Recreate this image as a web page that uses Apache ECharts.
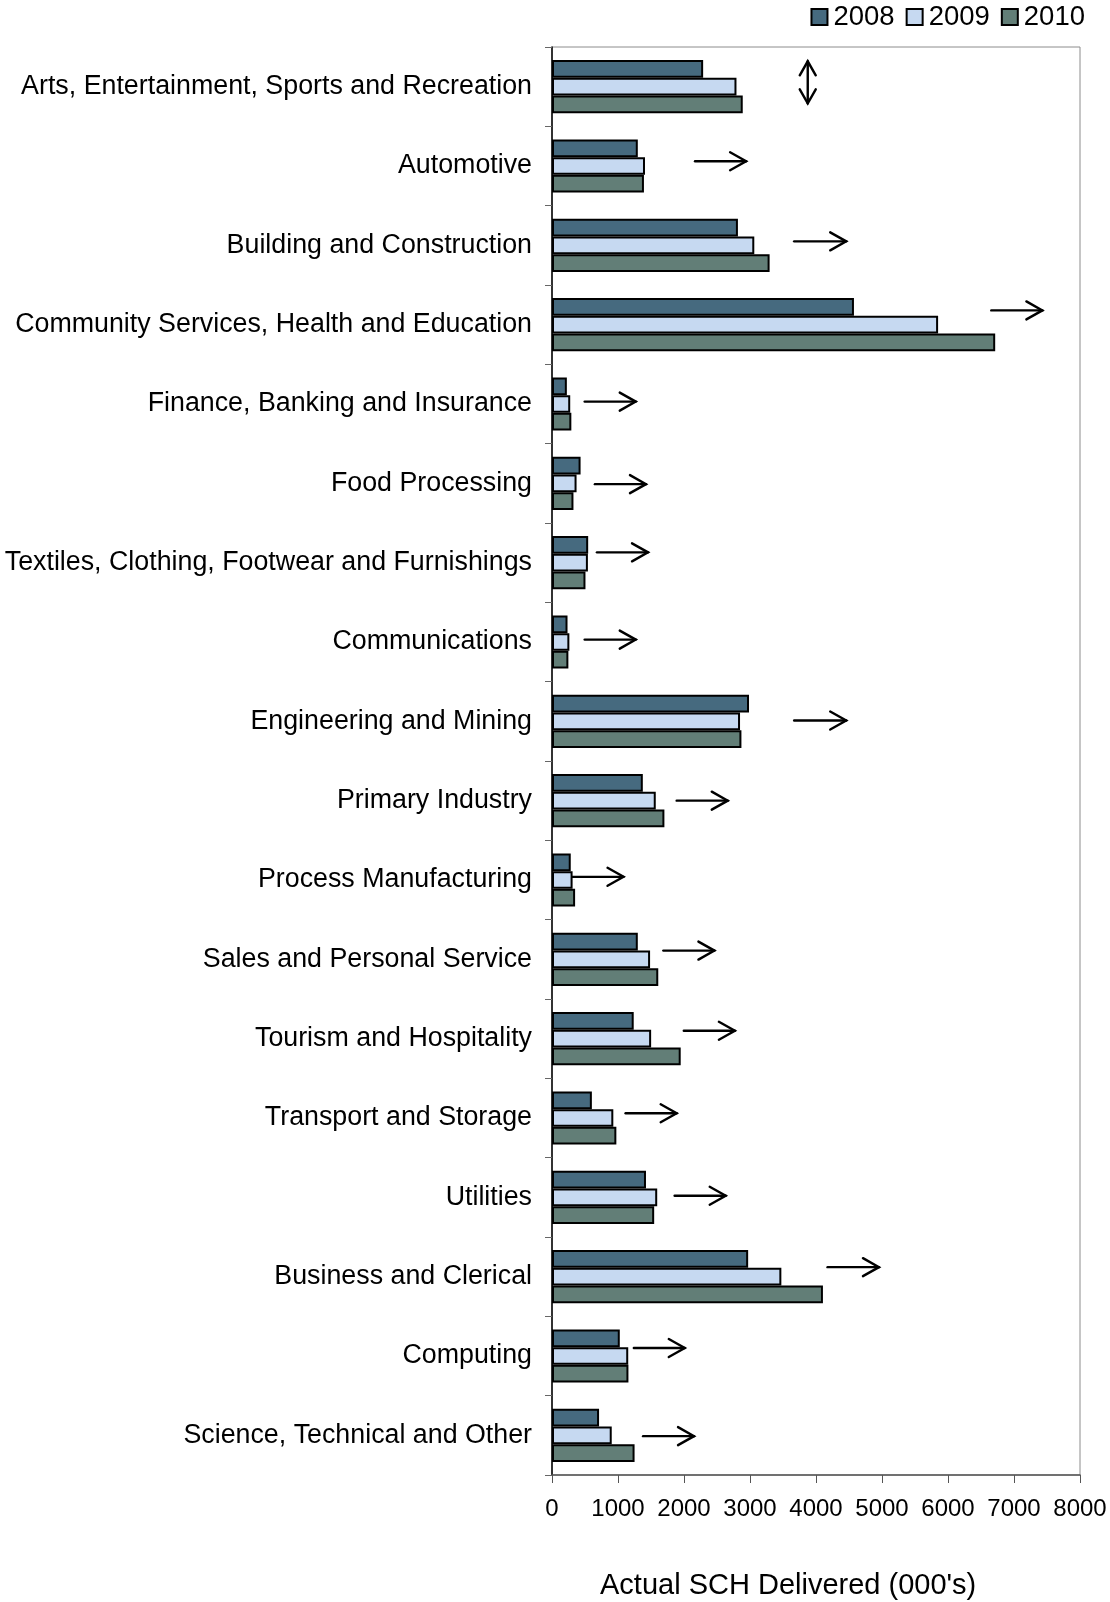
<!DOCTYPE html>
<html>
<head>
<meta charset="utf-8">
<title>Actual SCH Delivered by Industry, 2008–2010</title>
<script src="https://cdn.jsdelivr.net/npm/echarts@6/dist/echarts.min.js"></script>
<style>
  html, body { margin: 0; padding: 0; background: #ffffff; }
  #chart { width: 1110px; height: 1602px; }
</style>
</head>
<body>
<div id="chart"></div>
<script>
// Industry groups, top to bottom
const industries = [
  'Arts, Entertainment, Sports and Recreation',
  'Automotive',
  'Building and Construction',
  'Community Services, Health and Education',
  'Finance, Banking and Insurance',
  'Food Processing',
  'Textiles, Clothing, Footwear and Furnishings',
  'Communications',
  'Engineering and Mining',
  'Primary Industry',
  'Process Manufacturing',
  'Sales and Personal Service',
  'Tourism and Hospitality',
  'Transport and Storage',
  'Utilities',
  'Business and Clerical',
  'Computing',
  'Science, Technical and Other'
];

// Actual SCH delivered (000's)
const sch2008 = [2290, 1300, 2817, 4575, 225, 433, 548, 235, 2985, 1376, 284, 1300, 1238, 604, 1424, 2972, 1027, 713];
const sch2009 = [2795, 1409, 3065, 5850, 276, 372, 544, 263, 2849, 1572, 312, 1486, 1502, 929, 1594, 3475, 1155, 905];
const sch2010 = [2890, 1393, 3297, 6715, 293, 325, 507, 248, 2870, 1703, 350, 1610, 1950, 975, 1548, 4105, 1158, 1251];

// Trend arrows: [start value, end value, row position]
const trendArrows = [
  [2167, 2941, 0.94],
  [3669, 4458, 1.95],
  [6656, 7430, 2.82],
  [495, 1269, 3.97],
  [650, 1424, 5.01],
  [681, 1455, 5.87],
  [495, 1269, 6.97],
  [3669, 4458, 7.99],
  [1889, 2663, 9.00],
  [310, 1084, 9.96],
  [1687, 2461, 10.89],
  [1997, 2771, 11.90],
  [1115, 1889, 12.94],
  [1858, 2632, 13.98],
  [4175, 4954, 14.88],
  [1240, 2012, 15.90],
  [1380, 2152, 17.01]
];

// Steady-trend marker: [value, row top, row bottom]
const steadyArrows = [
  [3875, -0.32, 0.21]
];

const years = ['2008', '2009', '2010'];
const yearColors = ['#466a7f', '#c6d9f1', '#627e77'];
const xTicks = { min: 0, max: 8000, interval: 1000 };

const FONT = '"Liberation Sans", Arial, sans-serif';

function renderTrend(params, api) {
  const a = api.coord([api.value(0), api.value(2)]);
  const b = api.coord([api.value(1), api.value(2)]);
  const st = { stroke: '#000', fill: null, lineWidth: 2.4, lineCap: 'round', lineJoin: 'miter' };
  return {
    type: 'group',
    children: [
      { type: 'line', shape: { x1: a[0], y1: a[1], x2: b[0], y2: b[1] }, style: st },
      { type: 'polyline', shape: { points: [[b[0] - 16, b[1] - 9], [b[0], b[1]], [b[0] - 16, b[1] + 9]] }, style: st }
    ]
  };
}

function renderSteady(params, api) {
  const a = api.coord([api.value(0), api.value(1)]);
  const b = api.coord([api.value(0), api.value(2)]);
  const st = { stroke: '#000', fill: null, lineWidth: 2.4, lineCap: 'round' };
  return {
    type: 'group',
    children: [
      { type: 'line', shape: { x1: a[0], y1: a[1], x2: b[0], y2: b[1] }, style: st },
      { type: 'polyline', shape: { points: [[a[0] - 8, a[1] + 14], [a[0], a[1]], [a[0] + 8, a[1] + 14]] }, style: st },
      { type: 'polyline', shape: { points: [[b[0] - 8, b[1] - 14], [b[0], b[1]], [b[0] + 8, b[1] - 14]] }, style: st }
    ]
  };
}

const yearValues = [sch2008, sch2009, sch2010];
const barSeries = years.map((y, i) => ({
  name: y,
  type: 'bar',
  xAxisIndex: 0,
  yAxisIndex: 0,
  data: yearValues[i],
  barGap: '0%',
  barCategoryGap: '33%',
  itemStyle: { color: yearColors[i], borderColor: '#000', borderWidth: 2 }
}));

const chart = echarts.init(document.getElementById('chart'), null, { renderer: 'canvas' });
chart.setOption({
  animation: false,
  backgroundColor: '#ffffff',
  textStyle: { fontFamily: FONT },
  grid: {
    left: 552, right: 30, top: 47, bottom: 127,
    show: true, borderColor: '#8c8c8c', borderWidth: 1, backgroundColor: 'transparent'
  },
  legend: {
    data: years,
    right: 25, top: 3, padding: 0,
    itemWidth: 16, itemHeight: 16, itemGap: 11,
    icon: 'rect',
    itemStyle: { borderColor: '#000', borderWidth: 2 },
    textStyle: { fontSize: 27.5, color: '#000', fontFamily: FONT, padding: [0, 0, 0, 1] }
  },
  xAxis: {
    type: 'value',
    min: xTicks.min, max: xTicks.max, interval: xTicks.interval,
    axisLine: { show: true, onZero: false, lineStyle: { color: '#555', width: 1.5 } },
    axisTick: { show: true, length: 8, lineStyle: { color: '#555', width: 1 } },
    splitLine: { show: false },
    axisLabel: {
      fontSize: 24, color: '#000', margin: 22, fontFamily: FONT,
      formatter: (v) => String(v)
    }
  },
  yAxis: [
    {
      type: 'category',
      data: industries,
      inverse: true,
      axisLine: { show: true, lineStyle: { color: '#000', width: 1.5 } },
      axisTick: { show: true, length: 7, inside: false, lineStyle: { color: '#666', width: 1 } },
      splitLine: { show: false },
      axisLabel: { fontSize: 26.8, color: '#000', margin: 20, fontFamily: FONT }
    },
    {
      type: 'value',
      min: -0.5, max: 17.5, inverse: true,
      show: false,
      axisLine: { onZero: false },
      splitLine: { show: false }
    }
  ],
  series: barSeries.concat([
    {
      type: 'custom',
      name: 'trend',
      xAxisIndex: 0,
      yAxisIndex: 1,
      renderItem: renderTrend,
      encode: { x: [0, 1], y: 2 },
      data: trendArrows,
      z: 5
    },
    {
      type: 'custom',
      name: 'steady',
      xAxisIndex: 0,
      yAxisIndex: 1,
      renderItem: renderSteady,
      encode: { x: 0, y: [1, 2] },
      data: steadyArrows,
      z: 5
    }
  ]),
  graphic: [
    {
      type: 'text',
      left: 600,
      top: 1571,
      style: {
        text: "Actual SCH Delivered (000's)",
        fontSize: 29,
        fill: '#000',
        fontFamily: FONT
      }
    }
  ]
});
</script>
</body>
</html>
